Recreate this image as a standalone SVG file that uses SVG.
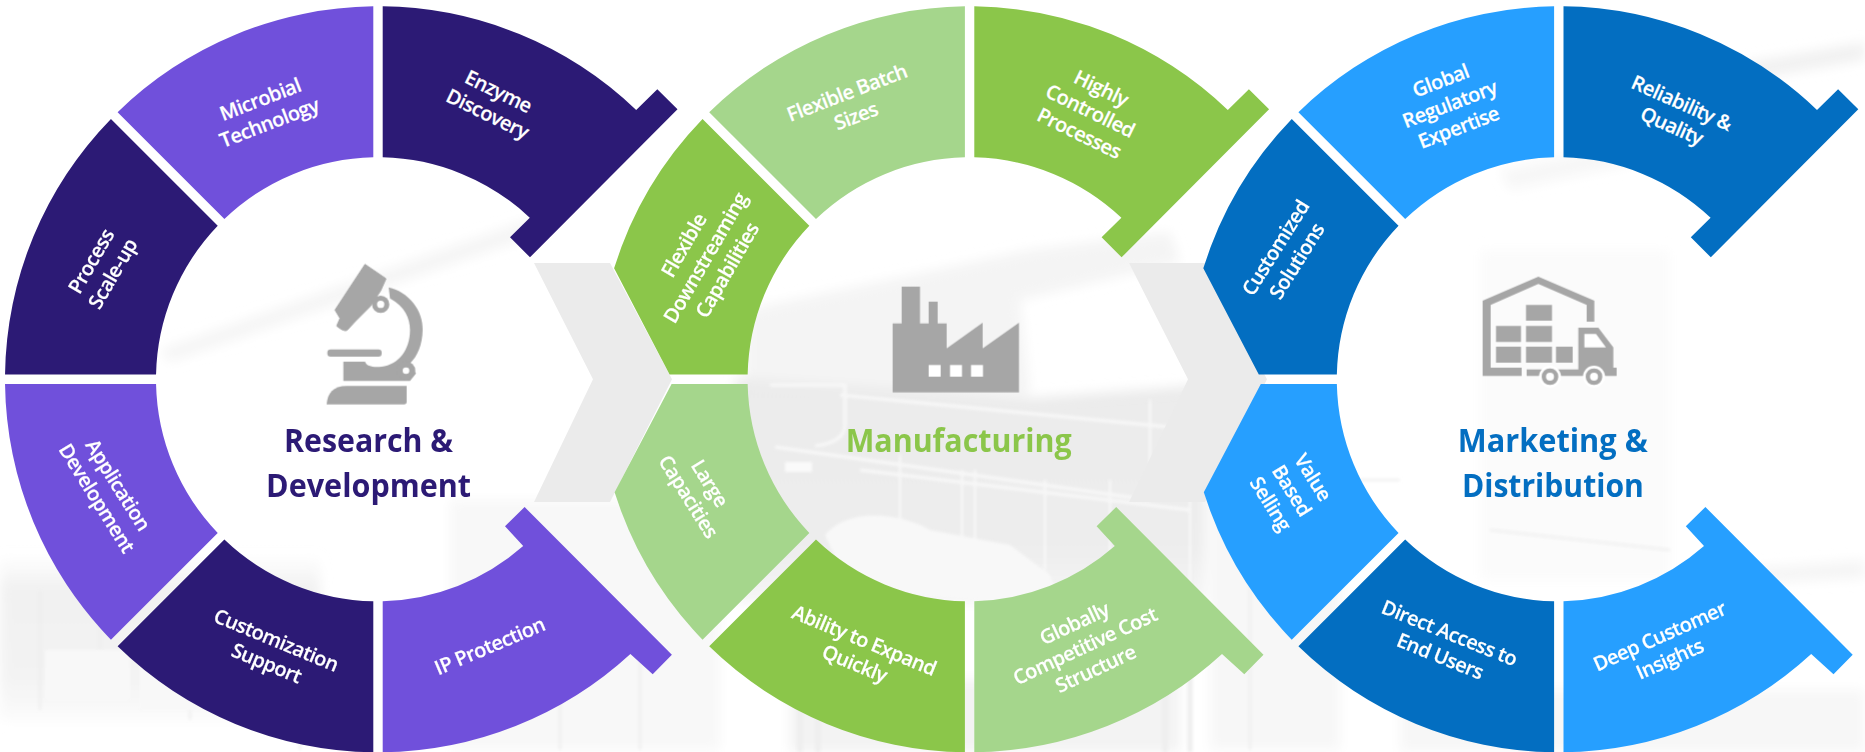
<svg xmlns="http://www.w3.org/2000/svg" width="1865" height="752" viewBox="0 0 1865 752">
<style>
.lb{font-family:"Open Sans","Liberation Sans",sans-serif;font-weight:600;font-size:20px;letter-spacing:-.55px;fill:#fff;stroke:#fff;stroke-width:.2px;text-anchor:middle}
.tt{font-family:"Open Sans","Liberation Sans",sans-serif;font-weight:700;font-size:32px;text-anchor:middle}
.dp{fill:#2c1a75}.mp{fill:#7050db}.dg{fill:#8bc64a}.lg{fill:#a5d68c}.db{fill:#036ec1}.lb2{fill:#269fff}
.ic{fill:#a6a6a6}.hole{fill:#fff}.chev{fill:#ebebeb}
.pipe{fill:none;stroke:#f7f7f7}
.post{fill:none;stroke:#eeeeee}
</style>
<defs>
<path id="s-tl" d="M-4.7-372.97A373 373 0 0 0-260.4-267.05L-153.62-160.26A222 222 0 0 1-4.7-221.95Z"/>
<path id="s-lu" d="M-267.05-260.4A373 373 0 0 0-372.97-4.7L-221.95-4.7A222 222 0 0 1-160.26-153.62Z"/>
<path id="s-ll" d="M-372.97 4.7A373 373 0 0 0-267.05 260.4L-160.26 153.62A222 222 0 0 1-221.95 4.7Z"/>
<path id="s-bl" d="M-260.4 267.05A373 373 0 0 0-4.7 372.97L-4.7 221.95A222 222 0 0 1-153.62 160.26Z"/>
<path id="s-tr" d="M4.7-372.97A373 373 0 0 1 258.2-269.3L279.3-290L299.5-270L152-122L132-142L151.8-161.6A222 222 0 0 0 4.7-221.95Z"/>
<path id="s-br" d="M4.7 372.97A373 373 0 0 0 252.4 274.7L274.7 295L293.9 275.4L146.6 127.7L127 147L145.2 166.7A222 222 0 0 1 4.7 221.95Z"/>
<path id="s-cu" d="M-267.05-260.4A373 373 0 0 0-355.5-111L-300-4.7L-221.95-4.7A222 222 0 0 1-160.26-153.62Z"/>
<path id="s-cl" d="M-298 4.7L-221.95 4.7A222 222 0 0 0-160.26 153.62L-267.05 260.4A373 373 0 0 1-355 113Z"/>
<path id="chev" d="M0 263L76 263L138 379.3L76 502L0 502L59 379.3Z"/>
<filter id="soft" x="-5%" y="-5%" width="110%" height="110%"><feGaussianBlur stdDeviation="1.5"/></filter>
<filter id="softer" x="-10%" y="-10%" width="120%" height="120%"><feGaussianBlur stdDeviation="6"/></filter>
<linearGradient id="fadeC" x1="0" y1="0" x2="0" y2="1"><stop offset="0" stop-color="#ebebeb"/><stop offset=".75" stop-color="#ededed"/><stop offset="1" stop-color="#f6f6f6"/></linearGradient>
<linearGradient id="fadeL" x1="0" y1="0" x2="0" y2="1"><stop offset="0" stop-color="#f1f1f1" stop-opacity="0"/><stop offset=".2" stop-color="#f1f1f1"/><stop offset=".75" stop-color="#f3f3f3"/><stop offset="1" stop-color="#fbfbfb"/></linearGradient>
</defs>
<rect width="1865" height="752" fill="#fff"/>
<g id="background">
<g filter="url(#softer)">
<path fill="#f4f4f4" d="M745 310L1030 250L1170 232L1180 262L1020 300L1030 395L745 385Z"/>
<path fill="url(#fadeC)" d="M735 378L1030 398L1205 385V603H735Z"/>
<rect x="0" y="555" width="320" height="165" fill="url(#fadeL)"/>
<rect x="450" y="500" width="270" height="250" fill="#f8f8f8"/>
<rect x="790" y="680" width="390" height="72" fill="#f3f3f3"/>
<rect x="1210" y="500" width="130" height="250" fill="#f7f7f7"/>
<path fill="#f7f7f7" d="M1400 690H1865V752H1400Z"/>
<path fill="#f5f5f5" d="M160 350L535 217L545 232L170 362Z"/>
<path fill="#f1f1f1" d="M1748 62L1865 42V60L1748 80Z"/>
<path fill="#f7f7f7" d="M1500 170L1740 120L1745 140L1510 190Z"/>
<path fill="#f5f5f5" d="M1700 572L1865 560V578L1700 586Z"/>
<rect x="1480" y="250" width="190" height="330" fill="#fbfbfb"/>
</g>
<g filter="url(#soft)">
<path class="post" stroke-width="2.5" opacity=".8" d="M1360 480H1400M1490 530L1670 550"/>
<path class="pipe" stroke-width="3.5" d="M770 385H845V425Q845 442 815 446M775 447L1150 500M840 395L1200 430M860 470L1190 510"/>
<path class="pipe" stroke-width="2.5" d="M900 455V560M962 470V580M975 470V580M1045 480V590M1110 480V590M1150 400V500M1190 420V590"/>
<path fill="#f8f8f8" d="M825 535C850 505 905 515 930 530L1010 545L1050 575L1060 600L985 600L850 590Z"/>
<path fill="#fafafa" d="M785 462H812V472H785Z"/>
<path class="post" stroke-width="5" d="M800 690V752M818 690V752M1165 650V752M1190 640V752"/>
<path class="post" stroke-width="2.5" opacity=".8" d="M40 590V710M100 570V700M190 625V720M300 660V750M560 640V750M640 640V750M1250 560V750"/>
<rect x="45" y="650" width="85" height="50" fill="#f8f8f8"/>
<rect x="140" y="650" width="60" height="60" fill="#f8f8f8"/>
</g>
</g>
<g id="connectors">
<use href="#chev" class="chev" x="534"/>
<use href="#chev" class="chev" x="1129"/>
</g>
<g id="rnd" transform="translate(378 379.3)">
<g id="n-enzyme"><use href="#s-tr" class="dp"/><text class="lb" transform="translate(114.5 -275.8) rotate(26)"><tspan x="0" y="-6.5">Enzyme</tspan><tspan x="0" y="18.5">Discovery</tspan></text></g>
<g id="n-microbial"><use href="#s-tl" class="mp"/><text class="lb" transform="translate(-113 -267.3) rotate(-21)"><tspan x="0" y="-6.5">Microbial</tspan><tspan x="0" y="18.5">Technology</tspan></text></g>
<g id="n-process"><use href="#s-lu" class="dp"/><text class="lb" transform="translate(-275.2 -111.3) rotate(-60)"><tspan x="0" y="-6.5">Process</tspan><tspan x="0" y="18.5">Scale-up</tspan></text></g>
<g id="n-application"><use href="#s-ll" class="mp"/><text class="lb" transform="translate(-271.5 112.7) rotate(58)"><tspan x="0" y="-6.5">Application</tspan><tspan x="0" y="18.5">Development</tspan></text></g>
<g id="n-customization"><use href="#s-bl" class="dp"/><text class="lb" transform="translate(-107 273.2) rotate(22.5)"><tspan x="0" y="-6.5">Customization</tspan><tspan x="0" y="18.5">Support</tspan></text></g>
<g id="n-ip"><use href="#s-br" class="mp"/><text class="lb" transform="translate(112 267.7) rotate(-23)"><tspan x="0" y="6">IP Protection</tspan></text></g>
</g>
<g id="mfg" transform="translate(969.6 379.3)">
<g id="n-controlled"><use href="#s-tr" class="dg"/><text class="lb" transform="translate(120.1 -267.6) rotate(26)"><tspan x="0" y="-19">Highly</tspan><tspan x="0" y="6">Controlled</tspan><tspan x="0" y="31">Processes</tspan></text></g>
<g id="n-batch"><use href="#s-tl" class="lg"/><text class="lb" transform="translate(-117.8 -274) rotate(-21)"><tspan x="0" y="-6.5">Flexible Batch</tspan><tspan x="0" y="18.5">Sizes</tspan></text></g>
<g id="n-downstream"><use href="#s-cu" class="dg"/><text class="lb" transform="translate(-263.3 -121) rotate(-60)"><tspan x="0" y="-19">Flexible</tspan><tspan x="0" y="6">Downstreaming</tspan><tspan x="0" y="31">Capabilities</tspan></text></g>
<g id="n-large"><use href="#s-cl" class="lg"/><text class="lb" transform="translate(-271.4 111) rotate(58)"><tspan x="0" y="-6.5">Large</tspan><tspan x="0" y="18.5">Capacities</tspan></text></g>
<g id="n-ability"><use href="#s-bl" class="dg"/><text class="lb" transform="translate(-110.6 273.5) rotate(22.5)"><tspan x="0" y="-6.5">Ability to Expand</tspan><tspan x="0" y="18.5">Quickly</tspan></text></g>
<g id="n-global-cost"><use href="#s-br" class="lg"/><text class="lb" transform="translate(115.7 267.7) rotate(-25)"><tspan x="0" y="-19">Globally</tspan><tspan x="0" y="6">Competitive Cost</tspan><tspan x="0" y="31">Structure</tspan></text></g>
</g>
<g id="mkt" transform="translate(1558.8 379.3)">
<g id="n-reliability"><use href="#s-tr" class="db"/><text class="lb" transform="translate(117.5 -264) rotate(24)"><tspan x="0" y="-6.5">Reliability &amp;</tspan><tspan x="0" y="18.5">Quality</tspan></text></g>
<g id="n-regulatory"><use href="#s-tl" class="lb2"/><text class="lb" transform="translate(-108.8 -274.3) rotate(-21)"><tspan x="0" y="-19">Global</tspan><tspan x="0" y="6">Regulatory</tspan><tspan x="0" y="31">Expertise</tspan></text></g>
<g id="n-customized"><use href="#s-cu" class="db"/><text class="lb" transform="translate(-271.8 -124.3) rotate(-58)"><tspan x="0" y="-6.5">Customized</tspan><tspan x="0" y="18.5">Solutions</tspan></text></g>
<g id="n-value"><use href="#s-cl" class="lb2"/><text class="lb" transform="translate(-267.8 111.7) rotate(58)"><tspan x="0" y="-19">Value</tspan><tspan x="0" y="6">Based</tspan><tspan x="0" y="31">Selling</tspan></text></g>
<g id="n-direct"><use href="#s-bl" class="db"/><text class="lb" transform="translate(-114.4 266.2) rotate(22)"><tspan x="0" y="-6.5">Direct Access to</tspan><tspan x="0" y="18.5">End Users</tspan></text></g>
<g id="n-insights"><use href="#s-br" class="lb2"/><text class="lb" transform="translate(106.2 269.4) rotate(-24)"><tspan x="0" y="-6.5">Deep Customer</tspan><tspan x="0" y="18.5">Insights</tspan></text></g>
</g>
<g id="hub-rnd">
<g transform="translate(310 250) scale(.3333)">
<path class="ic" d="M165 43L228 86L212 122L180 170L135 215L112 240C105 245 95 240 80 228L90 205L75 180Z" stroke="#a6a6a6" stroke-width="3" stroke-linejoin="round"/>
<path class="ic" d="M236 112C295 125 340 180 338 240C337 285 322 320 300 340L318 370L300 393H100V335H165C170 350 190 352 215 350C265 345 300 300 300 240C300 205 285 170 240 145Z"/>
<circle class="ic" cx="212" cy="163" r="26"/><circle class="hole" cx="212" cy="163" r="11"/>
<circle class="ic" cx="288" cy="362" r="28"/><circle class="hole" cx="288" cy="362" r="10"/>
<rect class="ic" x="52" y="298" width="163" height="22" rx="10"/>
<path class="ic" d="M50 463C52 430 70 408 110 408H290V455Q290 463 282 463Z"/>
</g>
<text class="tt" x="368.6" y="452" textLength="169" lengthAdjust="spacingAndGlyphs" style="fill:#2c1a75">Research &amp;</text>
<text class="tt" x="368.6" y="497" textLength="205" lengthAdjust="spacingAndGlyphs" style="fill:#2c1a75">Development</text>
</g>
<g id="hub-mfg">
<g transform="translate(880 270) scale(.3333)">
<path class="ic" d="M38 160H65V50H120V160H146V95H173V160H200V235L308 158V235L417 158V367H38Z"/>
<rect class="hole" x="146" y="285" width="36" height="35"/><rect class="hole" x="210" y="285" width="36" height="35"/><rect class="hole" x="273" y="285" width="36" height="35"/>
</g>
<text class="tt" x="958.7" y="452" textLength="226" lengthAdjust="spacingAndGlyphs" style="fill:#8bc64a">Manufacturing</text>
</g>
<g id="hub-mkt">
<g transform="translate(1470 260) scale(.3333)">
<path class="ic" d="M38 122L205 50L373 122V185H350V135L205 72L62 135V323H155V348H38Z"/>
<path class="ic" d="M168 135H246V182H168ZM78 198H153V246H78ZM168 198H246V246H168ZM78 260H153V308H78ZM168 260H246V308H168ZM258 260H308V308H258Z"/>
<path class="ic" d="M325 203H385L430 262V323H440V348H170V328H325Z"/>
<path class="hole" d="M343 222H378L408 262H343Z"/>
<circle class="hole" cx="240" cy="350" r="33"/><circle class="hole" cx="372" cy="350" r="33"/>
<circle class="ic" cx="240" cy="350" r="25"/><circle class="ic" cx="372" cy="350" r="25"/>
<circle class="hole" cx="240" cy="350" r="12"/><circle class="hole" cx="372" cy="350" r="12"/>
</g>
<text class="tt" x="1552.7" y="452" textLength="190" lengthAdjust="spacingAndGlyphs" style="fill:#036ec1">Marketing &amp;</text>
<text class="tt" x="1552.9" y="497" textLength="182" lengthAdjust="spacingAndGlyphs" style="fill:#036ec1">Distribution</text>
</g>
</svg>
